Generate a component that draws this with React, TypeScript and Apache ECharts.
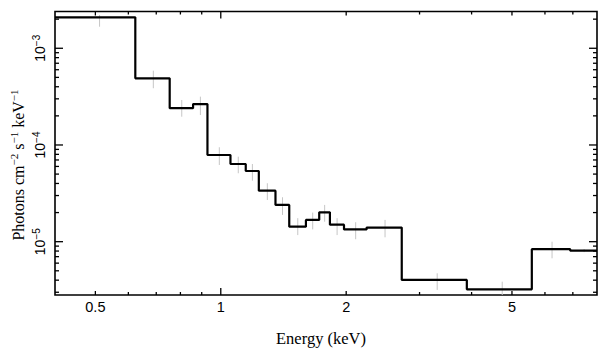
import React, { useEffect, useRef } from "react";
import * as echarts from "echarts";

// Energy bin edges (keV) and flux per bin (photons cm^-2 s^-1 keV^-1)
const BIN_EDGES = [0.4, 0.6235, 0.754, 0.858, 0.929, 1.055, 1.148, 1.234, 1.353, 1.46, 1.601, 1.723, 1.828, 1.976, 2.239, 2.719, 3.896, 5.58, 6.9, 8.0];
const FLUX = [2.09e-3, 4.89e-4, 2.4e-4, 2.65e-4, 7.88e-5, 6.36e-5, 5.38e-5, 3.37e-5, 2.4e-5, 1.43e-5, 1.68e-5, 2.01e-5, 1.5e-5, 1.34e-5, 1.4e-5, 4.02e-6, 3.22e-6, 8.36e-6, 8.07e-6];
const ERR_LO = [1.67e-3, 3.86e-4, 1.96e-4, 2.04e-4, 6.21e-5, 5.1e-5, 4.27e-5, 2.7e-5, 1.89e-5, 1.17e-5, 1.34e-5, 1.61e-5, 1.17e-5, 1.06e-5, 1.11e-5, 3.17e-6, 2.5e-6, 6.73e-6, 7.8e-6];
const ERR_HI = [2.21e-3, 5.87e-4, 2.92e-4, 3.16e-4, 9.47e-5, 7.57e-5, 6.36e-5, 4.02e-5, 2.88e-5, 1.75e-5, 2.0e-5, 2.4e-5, 1.75e-5, 1.59e-5, 1.68e-5, 4.71e-6, 3.86e-6, 1.0e-5, 8.4e-6];

// Axes
const X_MIN = 0.4;
const X_MAX = 8.0;
const Y_MIN = 2.81e-6;
const Y_MAX = 2.4e-3;
const X_LABELS = [0.5, 1, 2, 5];
const X_TICKS_MAJOR = [1];
const X_TICKS_MID = [0.5, 2, 5];
const X_TICKS_MINOR = [0.6, 0.7, 0.8, 0.9, 3, 4, 6, 7];
const Y_LABEL_EXPONENTS = [-3, -4, -5];
const Y_TICKS_MAJOR = [1e-5, 1e-4, 1e-3];
const Y_TICKS_MINOR = [3e-6, 4e-6, 5e-6, 6e-6, 7e-6, 8e-6, 9e-6, 2e-5, 3e-5, 4e-5, 5e-5, 6e-5, 7e-5, 8e-5, 9e-5, 2e-4, 3e-4, 4e-4, 5e-4, 6e-4, 7e-4, 8e-4, 9e-4, 2e-3];

const X_TITLE = "Energy (keV)";
const Y_TITLE_PARTS = ["Photons cm", "−2", " s", "−1", " keV", "−1"];

export default function App() {
  const ref = useRef<HTMLDivElement>(null);
  useEffect(() => {
    if (!ref.current) return;
    const chart = echarts.init(ref.current, null, { renderer: "svg" });

    const stepData = BIN_EDGES.slice(0, -1).map((e, i) => [e, FLUX[i]]);
    stepData.push([BIN_EDGES[BIN_EDGES.length - 1], FLUX[FLUX.length - 1]]);

    const errData = FLUX.map((_, i) => [
      (BIN_EDGES[i] + BIN_EDGES[i + 1]) / 2,
      ERR_LO[i],
      ERR_HI[i],
    ]);

    const xTicks = [
      ...X_TICKS_MAJOR.map((v) => ({ v, len: 7 })),
      ...X_TICKS_MID.map((v) => ({ v, len: 4 })),
      ...X_TICKS_MINOR.map((v) => ({ v, len: 3 })),
    ];
    const yTicks = [
      ...Y_TICKS_MAJOR.map((v) => ({ v, len: 8 })),
      ...Y_TICKS_MINOR.map((v) => ({ v, len: 4 })),
    ];

    const tickStyle = { stroke: "#000", lineWidth: 1.3 };
    const sansFont = "Liberation Sans";
    const serifFont = "Liberation Serif";

    const yTitleRich = Y_TITLE_PARTS.map((p, i) => (i % 2 === 0 ? `{a|${p}}` : `{s|${p}}`)).join("");

    chart.setOption({
      animation: false,
      textStyle: { fontFamily: sansFont },
      grid: {
        left: 55,
        right: 12,
        top: 11.5,
        bottom: 62,
        show: true,
        borderColor: "#000",
        borderWidth: 1.6,
      },
      xAxis: {
        type: "log",
        logBase: 10,
        min: X_MIN,
        max: X_MAX,
        axisLine: { show: false },
        axisTick: { show: false },
        axisLabel: { show: false },
        splitLine: { show: false },
      },
      yAxis: {
        type: "log",
        logBase: 10,
        min: Y_MIN,
        max: Y_MAX,
        axisLine: { show: false },
        axisTick: { show: false },
        axisLabel: { show: false },
        splitLine: { show: false },
      },
      graphic: [
        {
          type: "text",
          x: 321,
          y: 338,
          style: {
            text: X_TITLE,
            fontFamily: serifFont,
            fontSize: 16.5,
            fill: "#000",
            align: "center",
            verticalAlign: "middle",
          },
        },
        {
          type: "text",
          x: 17,
          y: 165,
          rotation: Math.PI / 2,
          style: {
            text: yTitleRich,
            fill: "#000",
            align: "center",
            verticalAlign: "middle",
            rich: {
              a: { fontFamily: serifFont, fontSize: 16, lineHeight: 18, verticalAlign: "bottom", fill: "#000" },
              s: { fontFamily: serifFont, fontSize: 11, lineHeight: 10, verticalAlign: "top", fill: "#000" },
            },
          },
        },
      ],
      series: [
        {
          type: "custom",
          name: "errors",
          coordinateSystem: "cartesian2d",
          clip: true,
          z: 1,
          data: errData,
          encode: { x: 0, y: [1, 2] },
          renderItem: (params: any, api: any) => {
            const c = api.value(0);
            const p1 = api.coord([c, api.value(1)]);
            const p2 = api.coord([c, api.value(2)]);
            return {
              type: "line",
              shape: { x1: p1[0], y1: p1[1], x2: p2[0], y2: p2[1] },
              style: { stroke: "#c6c6c6", lineWidth: 1 },
            };
          },
        },
        {
          type: "line",
          name: "spectrum",
          data: stepData,
          step: "end",
          symbol: "none",
          z: 3,
          clip: true,
          lineStyle: { color: "#000", width: 2.2 },
        },
        {
          type: "custom",
          name: "xticks",
          coordinateSystem: "cartesian2d",
          clip: false,
          z: 4,
          data: xTicks.map((t) => [t.v, Y_MIN]),
          renderItem: (params: any, api: any) => {
            const t = xTicks[params.dataIndex];
            const pb = api.coord([t.v, Y_MIN]);
            const pt = api.coord([t.v, Y_MAX]);
            return {
              type: "group",
              children: [
                { type: "line", shape: { x1: pb[0], y1: pb[1], x2: pb[0], y2: pb[1] - t.len }, style: tickStyle },
                { type: "line", shape: { x1: pt[0], y1: pt[1], x2: pt[0], y2: pt[1] + t.len }, style: tickStyle },
              ],
            };
          },
        },
        {
          type: "custom",
          name: "yticks",
          coordinateSystem: "cartesian2d",
          clip: false,
          z: 4,
          data: yTicks.map((t) => [X_MIN, t.v]),
          renderItem: (params: any, api: any) => {
            const t = yTicks[params.dataIndex];
            const pl = api.coord([X_MIN, t.v]);
            const pr = api.coord([X_MAX, t.v]);
            return {
              type: "group",
              children: [
                { type: "line", shape: { x1: pl[0], y1: pl[1], x2: pl[0] + t.len, y2: pl[1] }, style: tickStyle },
                { type: "line", shape: { x1: pr[0], y1: pr[1], x2: pr[0] - t.len, y2: pr[1] }, style: tickStyle },
              ],
            };
          },
        },
        {
          type: "custom",
          name: "xlabels",
          coordinateSystem: "cartesian2d",
          clip: false,
          z: 4,
          data: X_LABELS.map((v) => [v, Y_MIN]),
          renderItem: (params: any, api: any) => {
            const v = X_LABELS[params.dataIndex];
            const p = api.coord([v, Y_MIN]);
            return {
              type: "text",
              x: p[0],
              y: p[1] + 12,
              style: {
                text: String(v),
                fontFamily: sansFont,
                fontSize: 14.5,
                fill: "#000",
                align: "center",
                verticalAlign: "middle",
              },
            };
          },
        },
        {
          type: "custom",
          name: "ylabels",
          coordinateSystem: "cartesian2d",
          clip: false,
          z: 4,
          data: Y_LABEL_EXPONENTS.map((e) => [X_MIN, Math.pow(10, e)]),
          renderItem: (params: any, api: any) => {
            const e = Y_LABEL_EXPONENTS[params.dataIndex];
            const p = api.coord([X_MIN, Math.pow(10, e)]);
            return {
              type: "text",
              x: p[0] - 16,
              y: p[1],
              rotation: Math.PI / 2,
              style: {
                text: `{b|10}{s|−${-e}}`,
                fill: "#000",
                align: "center",
                verticalAlign: "middle",
                rich: {
                  b: { fontFamily: sansFont, fontSize: 14, lineHeight: 16, verticalAlign: "bottom", fill: "#000" },
                  s: { fontFamily: sansFont, fontSize: 10, lineHeight: 10, verticalAlign: "top", fill: "#000" },
                },
              },
            };
          },
        },
      ],
    });
    return () => chart.dispose();
  }, []);
  return (
    <div
      ref={ref}
      style={{ position: "fixed", left: 0, top: 0, width: 609, height: 357, background: "#fff" }}
    />
  );
}
